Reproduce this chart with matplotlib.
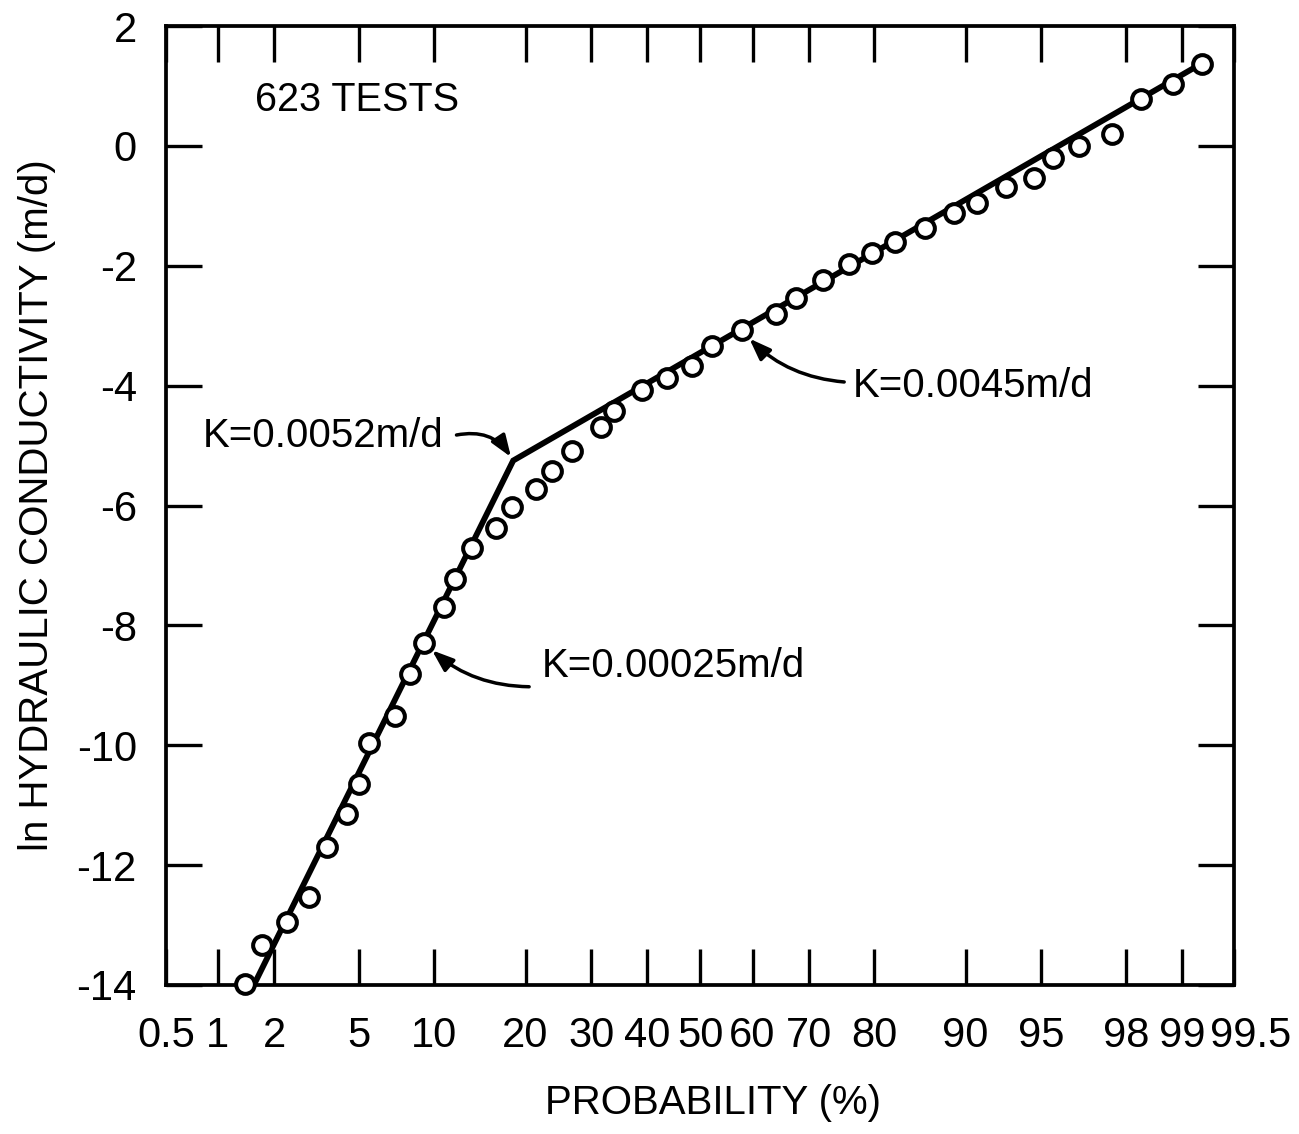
import numpy as np
import matplotlib
matplotlib.use("Agg")
import matplotlib.pyplot as plt
import matplotlib.transforms as mtransforms
from statistics import NormalDist

plt.rcParams['font.family'] = ['Liberation Sans', 'DejaVu Sans']
plt.rcParams['axes.unicode_minus'] = False

# ---------------- data ----------------
prob = [1.41, 1.74, 2.33, 2.97, 3.59, 4.45, 5.01, 5.50, 7.03, 8.09, 9.14,
        10.88, 11.88, 13.55, 16.31, 18.26, 21.45, 23.73, 26.77, 31.68, 33.91,
        38.92, 43.75, 48.51, 52.30, 57.97, 64.37, 67.87, 72.32, 76.32, 79.70,
        82.68, 86.10, 88.94, 90.96, 93.02, 94.64, 95.55, 96.64, 97.66, 98.32,
        98.87, 99.23]
lnK = [-13.99, -13.34, -12.95, -12.53, -11.69, -11.15, -10.65, -9.97, -9.51,
       -8.81, -8.29, -7.70, -7.23, -6.71, -6.37, -6.02, -5.72, -5.43, -5.09,
       -4.69, -4.42, -4.07, -3.88, -3.68, -3.34, -3.08, -2.80, -2.54, -2.24,
       -1.97, -1.78, -1.61, -1.375, -1.12, -0.95, -0.68, -0.54, -0.21, 0.00,
       0.20, 0.79, 1.03, 1.37]

fit_prob = [1.57, 18.38, 99.25]
fit_lnK = [-14.0, -5.25, 1.40]

xtick_vals = [0.5, 1, 2, 5, 10, 20, 30, 40, 50, 60, 70, 80, 90, 95, 98, 99, 99.5]
xtick_labels = ['0.5', '1', '2', '5', '10', '20', '30', '40', '50', '60', '70',
                '80', '90', '95', '98', '99', '99.5']
ytick_vals = [-14, -12, -10, -8, -6, -4, -2, 0, 2]

title_text = '623 TESTS'
ann_texts = ['K=0.0052m/d', 'K=0.00025m/d', 'K=0.0045m/d']

# ---------------- probability scale ----------------
_nd = NormalDist()
_ppf = np.vectorize(_nd.inv_cdf, otypes=[float])
_cdf = np.vectorize(_nd.cdf, otypes=[float])


def fwd(p):
    p = np.asarray(p, dtype=float)
    q = np.clip(p / 100.0, 1e-9, 1 - 1e-9)
    return _ppf(q)


def inv(z):
    z = np.asarray(z, dtype=float)
    return 100.0 * _cdf(z)


W, H = 1299, 1134
fig = plt.figure(figsize=(W / 100, H / 100), dpi=100)
L, R, T, B = 166, 1234, 26, 985
ax = fig.add_axes([L / W, 1 - B / H, (R - L) / W, (B - T) / H])
ax.set_xscale('function', functions=(fwd, inv))
ax.set_xlim(0.5, 99.5)
ax.set_ylim(-14, 2)

ax.plot(fit_prob, fit_lnK, color='black', lw=4.2, solid_capstyle='butt',
        solid_joinstyle='miter', zorder=2)
ax.plot(prob, lnK, linestyle='none', marker='o', markersize=13.5,
        markerfacecolor='white', markeredgecolor='black', markeredgewidth=2.9,
        zorder=3, clip_on=False)

ax.set_xticks(xtick_vals)
ax.set_xticklabels(xtick_labels)
ax.set_yticks(ytick_vals)
ax.minorticks_off()
ax.tick_params(axis='both', which='major', direction='in', length=26, width=2.4,
               labelsize=30, top=True, right=True, color='black')
ax.tick_params(axis='x', pad=22)
ax.tick_params(axis='y', pad=21)
for s in ax.spines.values():
    s.set_linewidth(2.7)

# nudge the last probability label to the right so it clears "99"
last = ax.get_xticklabels()[-1]
last.set_transform(last.get_transform() +
                   mtransforms.ScaledTranslation(0.17, 0, fig.dpi_scale_trans))

ax.set_xlabel('PROBABILITY (%)', fontsize=29)
ax.xaxis.set_label_coords(0.512, -0.103)
ax.set_ylabel('ln HYDRAULIC CONDUCTIVITY (m/d)', fontsize=29)
ax.yaxis.set_label_coords(-0.103, 0.5)

ax.text(0.083, 0.9228, title_text, transform=ax.transAxes, fontsize=28.5,
        ha='left', va='center')

# annotations
arrow_kw = dict(arrowstyle='-|>,head_length=0.65,head_width=0.24',
                color='black', lw=2.5, mutation_scale=20)

ax.text(0.0346, 0.561, ann_texts[0], transform=ax.transAxes, fontsize=29,
        ha='left', va='baseline')
ax.annotate('', xy=(fit_prob[1], fit_lnK[1]), xycoords='data',
            xytext=(0.272, 0.5735), textcoords='axes fraction',
            arrowprops=dict(connectionstyle='arc3,rad=-0.35', shrinkA=0,
                            shrinkB=3, **arrow_kw))

ax.text(0.352, 0.333, ann_texts[1], transform=ax.transAxes, fontsize=29,
        ha='left', va='center')
ax.annotate('', xy=(prob[10], lnK[10]), xycoords='data',
            xytext=(0.340, 0.311), textcoords='axes fraction',
            arrowprops=dict(connectionstyle='arc3,rad=-0.2', shrinkA=0,
                            shrinkB=8, **arrow_kw))

ax.text(0.643, 0.6246, ann_texts[2], transform=ax.transAxes, fontsize=29,
        ha='left', va='center')
ax.annotate('', xy=(prob[25], lnK[25]), xycoords='data',
            xytext=(0.635, 0.6288), textcoords='axes fraction',
            arrowprops=dict(connectionstyle='arc3,rad=-0.2', shrinkA=0,
                            shrinkB=8, **arrow_kw))

fig.savefig('out.png', dpi=100)
